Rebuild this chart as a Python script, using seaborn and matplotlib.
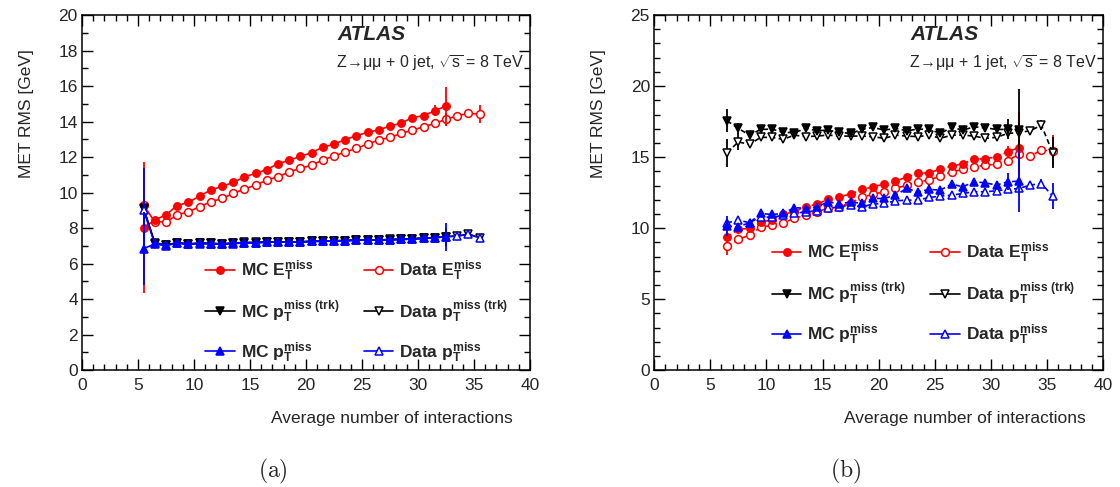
import numpy as np
import pandas as pd
import matplotlib
matplotlib.use("Agg")
import matplotlib.pyplot as plt
import seaborn as sns
from matplotlib.ticker import MultipleLocator

# ---------------- data: panel (a)  Z->mumu + 0 jet ----------------
x_mc_a = [5.5, 6.5, 7.5, 8.5, 9.5, 10.5, 11.5, 12.5, 13.5, 14.5, 15.5, 16.5, 17.5, 18.5,
          19.5, 20.5, 21.5, 22.5, 23.5, 24.5, 25.5, 26.5, 27.5, 28.5, 29.5, 30.5, 31.5, 32.5]
x_data_a = x_mc_a + [33.5, 34.5, 35.5]

mc_et_a = [8.02, 8.45, 8.75, 9.27, 9.45, 9.80, 10.15, 10.35, 10.57, 10.89, 11.08, 11.30, 11.63, 11.82,
           12.04, 12.25, 12.56, 12.72, 12.99, 13.20, 13.40, 13.53, 13.75, 13.91, 14.23, 14.33, 14.61, 14.88]
mc_et_a_err = [3.70, 0.12, 0.12, 0.12, 0.12, 0.12, 0.12, 0.12, 0.12, 0.12, 0.12, 0.12, 0.12, 0.12,
               0.12, 0.12, 0.12, 0.12, 0.12, 0.12, 0.12, 0.12, 0.12, 0.12, 0.15, 0.18, 0.30, 1.05]
data_et_a = [9.30, 8.35, 8.36, 8.73, 8.92, 9.20, 9.48, 9.67, 9.95, 10.20, 10.42, 10.70, 10.89, 11.17,
             11.36, 11.55, 11.83, 12.07, 12.28, 12.49, 12.73, 12.96, 13.11, 13.33, 13.52, 13.71, 13.90, 14.12,
             14.33, 14.46, 14.42]
data_et_a_err = [0.20, 0.10, 0.10, 0.10, 0.10, 0.10, 0.10, 0.10, 0.10, 0.10, 0.10, 0.10, 0.10, 0.10,
                 0.10, 0.10, 0.10, 0.10, 0.10, 0.10, 0.10, 0.10, 0.10, 0.10, 0.10, 0.10, 0.12, 0.35,
                 0.15, 0.20, 0.50]
mc_trk_a = [9.10, 7.12, 7.04, 7.17, 7.10, 7.14, 7.14, 7.10, 7.14, 7.18, 7.18, 7.22, 7.22, 7.22,
            7.22, 7.26, 7.26, 7.29, 7.29, 7.33, 7.33, 7.33, 7.35, 7.37, 7.40, 7.44, 7.47, 7.52]
mc_trk_a_err = [0.30, 0.08, 0.08, 0.08, 0.08, 0.08, 0.08, 0.08, 0.08, 0.08, 0.08, 0.08, 0.08, 0.08,
                0.08, 0.08, 0.08, 0.08, 0.08, 0.08, 0.08, 0.08, 0.08, 0.08, 0.08, 0.08, 0.10, 0.50]
data_trk_a = [9.12, 7.18, 7.05, 7.18, 7.12, 7.15, 7.14, 7.12, 7.16, 7.19, 7.19, 7.22, 7.23, 7.22,
              7.23, 7.26, 7.27, 7.29, 7.30, 7.33, 7.33, 7.34, 7.36, 7.37, 7.40, 7.43, 7.47, 7.52,
              7.56, 7.66, 7.47]
data_trk_a_err = [0.20] + [0.06] * 29 + [0.10]
mc_pt_a = [6.85, 7.10, 7.02, 7.15, 7.08, 7.12, 7.12, 7.08, 7.12, 7.17, 7.17, 7.21, 7.21, 7.21,
           7.21, 7.25, 7.25, 7.28, 7.28, 7.32, 7.32, 7.32, 7.34, 7.36, 7.38, 7.42, 7.46, 7.51]
mc_pt_a_err = [2.05, 0.08, 0.08, 0.08, 0.08, 0.08, 0.08, 0.08, 0.08, 0.08, 0.08, 0.08, 0.08, 0.08,
               0.08, 0.08, 0.08, 0.08, 0.08, 0.08, 0.08, 0.08, 0.08, 0.08, 0.08, 0.08, 0.10, 0.80]
data_pt_a = [9.00, 7.16, 7.04, 7.17, 7.11, 7.14, 7.13, 7.11, 7.15, 7.18, 7.18, 7.21, 7.22, 7.21,
             7.22, 7.25, 7.26, 7.28, 7.29, 7.32, 7.32, 7.33, 7.35, 7.36, 7.39, 7.42, 7.46, 7.51,
             7.55, 7.65, 7.46]
data_pt_a_err = [2.40] + [0.06] * 29 + [0.10]

# ---------------- data: panel (b)  Z->mumu + 1 jet ----------------
x_mc_b = [6.5, 7.5, 8.5, 9.5, 10.5, 11.5, 12.5, 13.5, 14.5, 15.5, 16.5, 17.5, 18.5, 19.5,
          20.5, 21.5, 22.5, 23.5, 24.5, 25.5, 26.5, 27.5, 28.5, 29.5, 30.5, 31.5, 32.5]
x_data_b = x_mc_b + [33.5, 34.5, 35.5]

mc_et_b = [9.36, 9.92, 9.98, 10.40, 10.60, 10.98, 11.15, 11.50, 11.69, 12.02, 12.21, 12.39, 12.72, 12.91,
           13.10, 13.30, 13.60, 13.86, 13.90, 14.15, 14.37, 14.53, 14.87, 14.87, 15.03, 15.38, 15.67]
mc_et_b_err = [0.40, 0.15, 0.15, 0.15, 0.15, 0.15, 0.15, 0.15, 0.15, 0.15, 0.15, 0.15, 0.15, 0.15,
               0.15, 0.15, 0.15, 0.15, 0.15, 0.15, 0.15, 0.15, 0.15, 0.15, 0.20, 0.40, 2.50]
data_et_b = [8.73, 9.20, 9.51, 10.05, 10.21, 10.38, 10.68, 10.92, 11.15, 11.39, 11.50, 11.78, 12.16, 12.39,
             12.56, 12.79, 13.03, 13.26, 13.38, 13.66, 13.97, 14.13, 14.32, 14.44, 14.49, 14.75, 15.21,
             15.07, 15.49, 15.44]
data_et_b_err = [0.60, 0.15, 0.15, 0.15, 0.15, 0.15, 0.15, 0.15, 0.15, 0.15, 0.15, 0.15, 0.15, 0.15,
                 0.15, 0.15, 0.15, 0.15, 0.15, 0.15, 0.15, 0.15, 0.15, 0.15, 0.15, 0.20, 0.40,
                 0.20, 0.30, 1.10]
mc_trk_b = [17.56, 17.02, 16.55, 16.95, 16.97, 16.74, 16.72, 17.02, 16.86, 16.90, 16.74, 16.67, 16.95, 17.09,
            16.90, 17.02, 16.86, 16.97, 16.95, 16.67, 17.09, 16.90, 17.13, 17.06, 16.95, 16.95, 16.90]
mc_trk_b_err = [0.80, 0.40, 0.20, 0.15, 0.15, 0.15, 0.15, 0.15, 0.15, 0.15, 0.15, 0.15, 0.15, 0.15,
                0.15, 0.15, 0.15, 0.15, 0.15, 0.15, 0.15, 0.15, 0.15, 0.15, 0.20, 0.70, 2.90]
data_trk_b = [15.30, 16.07, 15.90, 16.39, 16.39, 16.25, 16.55, 16.44, 16.48, 16.55, 16.48, 16.48, 16.48, 16.44,
              16.32, 16.55, 16.48, 16.44, 16.55, 16.32, 16.55, 16.55, 16.48, 16.32, 16.39, 16.67, 16.72,
              16.86, 17.25, 15.30]
data_trk_b_err = [1.00, 0.60, 0.20, 0.15, 0.15, 0.15, 0.15, 0.15, 0.15, 0.15, 0.15, 0.15, 0.15, 0.15,
                  0.15, 0.15, 0.15, 0.15, 0.15, 0.15, 0.15, 0.15, 0.15, 0.15, 0.15, 0.15, 0.20,
                  0.20, 0.35, 1.10]
mc_pt_b = [10.14, 10.09, 10.38, 11.03, 10.96, 11.03, 11.45, 11.38, 11.50, 11.85, 11.69, 11.85, 11.74, 12.09,
           12.09, 12.32, 12.79, 12.56, 12.72, 12.68, 13.10, 12.91, 13.26, 13.19, 13.03, 13.26, 13.31]
mc_pt_b_err = [0.70, 0.15, 0.15, 0.15, 0.15, 0.15, 0.15, 0.15, 0.15, 0.15, 0.15, 0.15, 0.15, 0.15,
               0.15, 0.15, 0.15, 0.15, 0.15, 0.15, 0.15, 0.15, 0.15, 0.15, 0.20, 0.60, 2.20]
data_pt_b = [10.37, 10.56, 10.38, 10.80, 10.75, 10.92, 11.03, 11.15, 11.22, 11.39, 11.50, 11.62, 11.50, 11.69,
             11.74, 11.92, 11.97, 11.97, 12.16, 12.25, 12.32, 12.44, 12.56, 12.56, 12.63, 12.72, 12.79,
             13.03, 13.14, 12.25]
data_pt_b_err = [0.30] + [0.12] * 27 + [0.30, 0.90]

series_labels = [r"MC $\mathbf{E_T^{miss}}$", r"Data $\mathbf{E_T^{miss}}$",
                 r"MC $\mathbf{p_T^{miss\ (trk)}}$", r"Data $\mathbf{p_T^{miss\ (trk)}}$",
                 r"MC $\mathbf{p_T^{miss}}$", r"Data $\mathbf{p_T^{miss}}$"]
x_ticks = [0, 5, 10, 15, 20, 25, 30, 35, 40]
y_ticks_a = [0, 2, 4, 6, 8, 10, 12, 14, 16, 18, 20]
y_ticks_b = [0, 5, 10, 15, 20, 25]

# ---------------- style ----------------
sns.set_theme(style="ticks")
plt.rcParams["font.family"] = ["Liberation Sans", "DejaVu Sans"]
plt.rcParams["mathtext.fontset"] = "custom"
plt.rcParams["mathtext.rm"] = "Liberation Sans"
plt.rcParams["mathtext.bf"] = "Liberation Sans:bold"
plt.rcParams["mathtext.it"] = "Liberation Sans:italic"
plt.rcParams["axes.linewidth"] = 1.1

RED, BLACK, BLUE = "#ff0000", "#000000", "#0000ff"

fig = plt.figure(figsize=(11.2, 4.87), dpi=100)
ax_a = fig.add_axes([0.0732, 0.240, 0.400, 0.729])
ax_b = fig.add_axes([0.584, 0.240, 0.401, 0.729])


def draw_series(ax, x, y, err, color, marker, filled, label, ls, ms, z):
    df = pd.DataFrame({"x": x, "y": y})
    sns.lineplot(data=df, x="x", y="y", ax=ax, color=color, marker=marker, markersize=ms,
                 markerfacecolor=color if filled else "white", markeredgecolor=color,
                 markeredgewidth=1.1, linewidth=1.2, linestyle=ls, label=label,
                 estimator=None, sort=False, zorder=z)
    ax.errorbar(x, y, yerr=err, fmt="none", ecolor=color, elinewidth=1.3, capsize=0, zorder=z - 0.5)


def panel(ax, data, yticks, ymax, ls, legend_anchor, njet, letter):
    (x_mc, x_data, mc_et, mc_et_e, d_et, d_et_e, mc_trk, mc_trk_e, d_trk, d_trk_e,
     mc_pt, mc_pt_e, d_pt, d_pt_e) = data
    draw_series(ax, x_data, d_et, d_et_e, RED, "o", False, series_labels[1], ls, 5.6, 5)
    draw_series(ax, x_mc, mc_et, mc_et_e, RED, "o", True, series_labels[0], ls, 5.3, 6)
    draw_series(ax, x_data, d_trk, d_trk_e, BLACK, "v", False, series_labels[3], ls, 5.8, 7)
    draw_series(ax, x_mc, mc_trk, mc_trk_e, BLACK, "v", True, series_labels[2], ls, 5.6, 8)
    draw_series(ax, x_data, d_pt, d_pt_e, BLUE, "^", False, series_labels[5], ls, 5.8, 9)
    draw_series(ax, x_mc, mc_pt, mc_pt_e, BLUE, "^", True, series_labels[4], ls, 5.6, 10)

    ax.set_xlim(0, 40)
    ax.set_ylim(0, ymax)
    ax.set_xticks(x_ticks)
    ax.set_yticks(yticks)
    ax.xaxis.set_minor_locator(MultipleLocator(1))
    ax.yaxis.set_minor_locator(MultipleLocator(1))
    ax.tick_params(which="both", direction="in", top=True, right=True, color="black",
                   labelsize=12.5, width=1.0)
    ax.tick_params(which="major", length=8)
    ax.tick_params(which="minor", length=4)
    ax.tick_params(axis="x", which="major", pad=6)
    ax.tick_params(axis="y", which="major", pad=3)
    for s in ax.spines.values():
        s.set_color("black")

    ax.set_xlabel("Average number of interactions", fontsize=12.5, ha="right")
    ax.xaxis.set_label_coords(0.962, -0.115)
    ax.set_ylabel("MET RMS [GeV]", fontsize=12.5)
    ax.yaxis.set_label_coords(-0.108, 0.722)

    ax.text(0.571, 0.944, "ATLAS", transform=ax.transAxes, fontsize=15, fontweight="bold",
            fontstyle="italic", ha="left", va="center")
    ax.text(0.986, 0.866,
            r"Z$\!\rightarrow\!\mathrm{\mu\mu}$ + %d jet, $\sqrt{\mathrm{s}}$ = 8 TeV" % njet,
            transform=ax.transAxes, fontsize=11.5, ha="right", va="center")

    h, l = ax.get_legend_handles_labels()
    lut = dict(zip(l, h))
    order = [0, 2, 4, 1, 3, 5]
    leg = ax.legend([lut[series_labels[i]] for i in order], [series_labels[i] for i in order],
                    ncol=2, frameon=False,
                    loc="upper left", bbox_to_anchor=legend_anchor, borderaxespad=0, borderpad=0,
                    handlelength=1.7, handletextpad=0.35, columnspacing=1.4, labelspacing=0.9,
                    prop={"weight": "bold", "size": 12.5})
    for line in leg.get_lines():
        line.set_linestyle("-")

    ax.text(0.426, -0.285, "$\\mathrm{(%s)}$" % letter, transform=ax.transAxes, fontsize=17,
            ha="center", va="center", math_fontfamily="cm")


panel(ax_a, (x_mc_a, x_data_a, mc_et_a, mc_et_a_err, data_et_a, data_et_a_err,
             mc_trk_a, mc_trk_a_err, data_trk_a, data_trk_a_err, mc_pt_a, mc_pt_a_err,
             data_pt_a, data_pt_a_err),
      y_ticks_a, 20, "-", (0.275, 0.315), 0, "a")
panel(ax_b, (x_mc_b, x_data_b, mc_et_b, mc_et_b_err, data_et_b, data_et_b_err,
             mc_trk_b, mc_trk_b_err, data_trk_b, data_trk_b_err, mc_pt_b, mc_pt_b_err,
             data_pt_b, data_pt_b_err),
      y_ticks_b, 25, (0, (3, 2)), (0.262, 0.365), 1, "b")

fig.savefig("out.png", dpi=100)
